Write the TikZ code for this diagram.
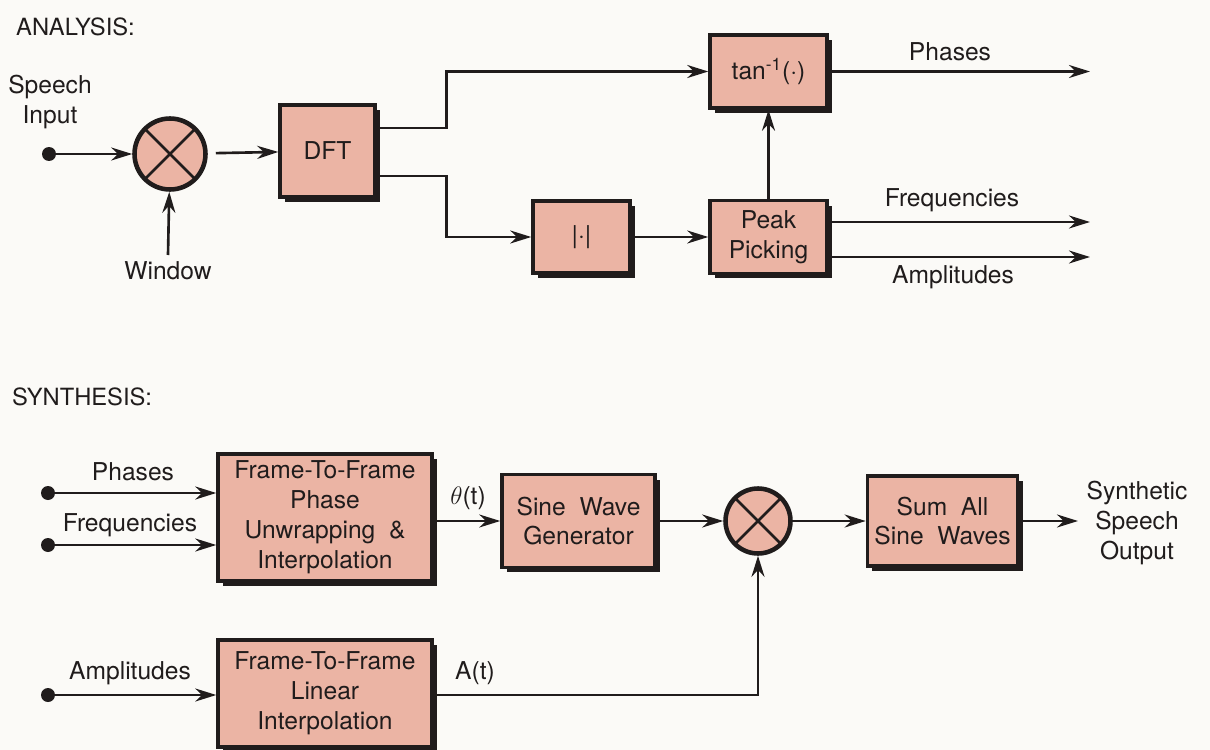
\documentclass[tikz,border=0pt]{standalone}
\usepackage{fontspec}
\setmainfont{TeX Gyre Heros}
\usetikzlibrary{arrows.meta,calc,positioning,shadows}
\definecolor{cblk}{RGB}{235,180,164}
\definecolor{cink}{RGB}{32,28,28}
\definecolor{cpaper}{RGB}{251,250,247}
\tikzset{
  blk/.style={rectangle,fill=cblk,draw=cink,line width=2pt,align=center,
    inner sep=4pt,text=cink,font=\fontsize{14}{17}\selectfont,
    drop shadow={shadow xshift=0.1cm,shadow yshift=-0.1cm,fill=cink,opacity=1}},
  % multiplier: circle with a cross
  mult/.style={circle,fill=cblk,draw=cink,line width=2.6pt,
    path picture={\draw[cink,line width=1.5pt]
      (path picture bounding box.north west) -- (path picture bounding box.south east)
      (path picture bounding box.north east) -- (path picture bounding box.south west);}},
  lab/.style={font=\fontsize{14}{17}\selectfont,text=cink,align=center},
  sectlab/.style={font=\fontsize{13.5}{16}\selectfont,text=cink,anchor=west},
  port/.style={circle,fill=cink,inner sep=0pt,minimum size=0.28cm},
  arr/.style={-{Stealth[length=0.42cm,width=0.26cm]},line width=1.5pt,draw=cink}
}

\begin{document}
\begin{tikzpicture}[x=0.02cm,y=-0.02cm]
  \fill[cpaper] (0,0) rectangle (1210,750);
  \useasboundingbox (0,0) rectangle (1210,750);

  % analysis
  \node[sectlab] (ana) at (10,27) {ANALYSIS:};
  \node[port] (sin) at (49,154) {};
  \node[lab] (sinlab) at (50,102) {Speech\\Input};
  \node[mult,minimum size=1.42cm] (win) at (170,154) {};
  \coordinate (winfoot) at (168,255);
  \node[lab] (winlab) at (168,271) {Window};
  \node[blk,minimum width=1.9cm,minimum height=1.84cm] (dft) at (327.5,151) {DFT};
  \node[blk,minimum width=1.94cm,minimum height=1.44cm] (mag) at (581.5,237) {|·|};
  \node[blk,minimum width=2.34cm,minimum height=1.46cm] (atan) at (768.5,71.5) {tan\textsuperscript{-1}(·)};
  \node[blk,minimum width=2.34cm,minimum height=1.46cm] (peak) at (768.5,237) {Peak\\Picking};
  \coordinate (phout) at (1090,71.5);
  \coordinate (frout) at (1090,222);
  \coordinate (amout) at (1090,257);
  \node[lab] (phlab) at (950,52) {Phases};
  \node[lab] (frlab) at (952,200) {Frequencies};
  \node[lab] (amlab) at (953,277) {Amplitudes};

  \draw[arr] (sin) -- (win);
  \draw[arr] (winfoot) -- (win);
  \draw[arr,shorten <=0.16cm] (win) -- (dft);
  \draw[arr] ($(dft.east)+(0,-23)$) -- ++(70,0) |- (atan.west);
  \draw[arr] ($(dft.east)+(0,25)$) -- ++(70,0) |- (mag.west);
  \draw[arr] (mag) -- (peak);
  \draw[arr] (peak) -- (atan);
  \draw[arr] (atan) -- (phout);
  \draw[arr] (peak.east |- frout) -- (frout);
  \draw[arr] (peak.east |- amout) -- (amout);

  % synthesis
  \node[sectlab] (syn) at (6,397) {SYNTHESIS:};
  \node[port] (ph) at (48,493) {};
  \node[port] (fr) at (48,545) {};
  \node[port] (am) at (48,695) {};
  \node[lab] (phin) at (133,472) {Phases};
  \node[lab] (frin) at (130,525) {Frequencies};
  \node[lab] (amin) at (130,673) {Amplitudes};
  \node[blk,minimum width=4.28cm,minimum height=2.5cm] (unwrap) at (325,517.5)
    {Frame-To-Frame\\Phase\\Unwrapping\ \ \&\\Interpolation};
  \node[blk,minimum width=4.28cm,minimum height=2.14cm] (linint) at (325,693.5)
    {Frame-To-Frame\\Linear\\Interpolation};
  \node[blk,minimum width=3.06cm,minimum height=1.86cm] (sine) at (578.5,521) {Sine\ \ Wave\\Generator};
  \node[mult,minimum size=1.3cm] (mix) at (758,521) {};
  \node[blk,minimum width=2.98cm,minimum height=1.8cm] (sum) at (942.5,521) {Sum\ \ All\\Sine\ \ Waves};
  \coordinate (synout) at (1078,521);
  \node[lab] (outlab) at (1137,523) {Synthetic\\Speech\\Output};
  \node[lab] (thlab) at (468,498) {$\theta$(t)};
  \node[lab] (alab) at (475,673) {A(t)};

  \draw[arr] (ph) -- (unwrap.west |- ph);
  \draw[arr] (fr) -- (unwrap.west |- fr);
  \draw[arr] (am) -- (linint.west |- am);
  \draw[arr] (unwrap.east |- sine.west) -- (sine.west);
  \draw[arr] (sine) -- (mix);
  \draw[arr] (mix) -- (sum);
  \draw[arr] (sum) -- (synout);
  \draw[arr] (linint.east |- am) -| (mix.south);
\end{tikzpicture}
\end{document}
